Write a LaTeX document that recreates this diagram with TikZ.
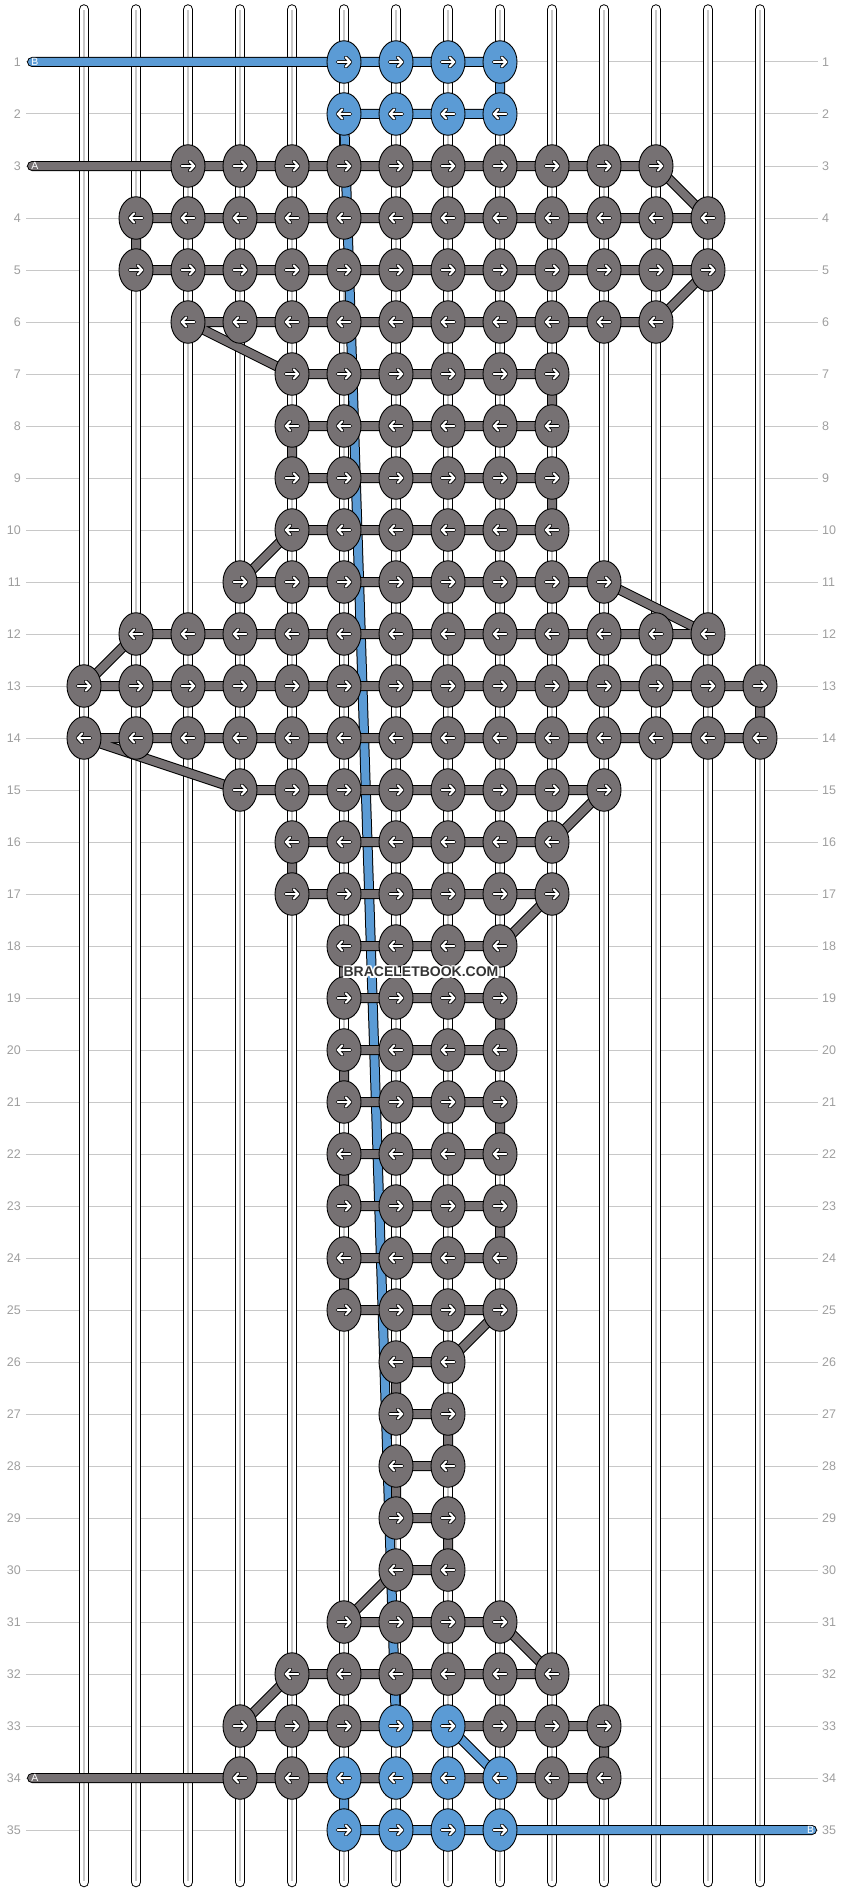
\documentclass[tikz,border=0pt]{standalone}
\usepackage{fontspec}
\setmainfont{Liberation Sans}
\usetikzlibrary{shapes.geometric}
\definecolor{gk}{HTML}{767173}
\definecolor{bk}{HTML}{5B9BD5}
\definecolor{gridc}{HTML}{C8C8C8}
\definecolor{lblc}{HTML}{9E9E9E}
\definecolor{wmc}{HTML}{333333}
\pgfdeclarelayer{bg}
\pgfdeclarelayer{thr}
\pgfsetlayers{bg,thr,main}
\begin{document}
\begin{tikzpicture}[x=1pt,y=-1pt,
  knot/.style={ellipse, draw=black, line width=0.9pt, minimum width=34pt, minimum height=42.5pt, inner sep=0pt},
  thread/.style={draw=black, line width=1pt, double=#1, double distance=8pt, line cap=round, line join=round},
  strout/.style={draw=black, line width=1pt, double=white, double distance=8.5pt, line cap=round},
  strin/.style={draw=gridc, line width=1.2pt},
  gridl/.style={draw=gridc, line width=1pt},
  rowlbl/.style={font=\fontsize{12.5}{14}\selectfont, text=lblc, inner sep=0pt},
  endlbl/.style={font=\fontsize{10.5}{12}\selectfont, text=white, inner sep=0pt},
  wm/.style={font=\bfseries\fontsize{14}{16}\selectfont, inner sep=0pt},
  arr/.pic={
    \draw[black, line width=3.8pt, line cap=round, line join=round] (-6.3,0) -- (6.3,0) (1.8,-4.6) -- (6.3,0) -- (1.8,4.6);
    \draw[white, line width=2pt, line cap=round, line join=round] (-6.3,0) -- (6.3,0) (1.8,-4.6) -- (6.3,0) -- (1.8,4.6);
  }]
\useasboundingbox (0,0) rectangle (844,1892);

% knots
\foreach \rw/\a/\b in {1/5/8,2/5/8,3/2/11,4/1/12,5/1/12,6/2/11,7/4/9,8/4/9,9/4/9,10/4/9,11/3/10,12/1/12,13/0/13,14/0/13,15/3/10,16/4/9,17/4/9,18/5/8,19/5/8,20/5/8,21/5/8,22/5/8,23/5/8,24/5/8,25/5/8,26/6/7,27/6/7,28/6/7,29/6/7,30/6/7,31/5/8,32/4/9,33/3/10,34/3/10,35/5/8}{
  \foreach \cl in {\a,...,\b}{
    \def\kc{gk}
    \ifnum\rw<3 \def\kc{bk}\fi
    \ifnum\rw=35 \def\kc{bk}\fi
    \ifnum\rw=33 \ifnum\cl>5 \ifnum\cl<8 \def\kc{bk}\fi\fi\fi
    \ifnum\rw=34 \ifnum\cl>4 \ifnum\cl<9 \def\kc{bk}\fi\fi\fi
    \ifodd\rw \def\sx{1}\else \def\sx{-1}\fi
    \node[knot, fill=\kc] (k-\rw-\cl) at ({84+52*\cl},{62+52*(\rw-1)}) {};
    \pic[xscale=\sx] at (k-\rw-\cl) {arr};
  }
}

% background: grid lines, labels, strings
\begin{pgfonlayer}{bg}
\foreach \rw in {1,...,35}{
  \draw[gridl] (26,{62+52*(\rw-1)}) -- (818,{62+52*(\rw-1)});
  \node[rowlbl, anchor=east] (ll\rw) at (21,{62+52*(\rw-1)}) {\rw};
  \node[rowlbl, anchor=west] (rl\rw) at (822,{62+52*(\rw-1)}) {\rw};
}
\foreach \cl in {0,...,13}{
  \coordinate (st\cl) at ({84+52*\cl},9.5);
  \coordinate (sb\cl) at ({84+52*\cl},1882);
  \draw[strout] (st\cl) -- (sb\cl);
  \draw[strin] ([yshift=-1pt]st\cl) -- ([yshift=1pt]sb\cl);
}
\end{pgfonlayer}

% threads
\coordinate (Bst) at (32,62);
\coordinate (Bend) at (812,1830);
\coordinate (Ast) at (32,166);
\coordinate (Aend) at (32,1778);
\begin{pgfonlayer}{thr}
\draw[thread=bk] (Bst) -- (k-1-5.center) -- (k-1-8.center) -- (k-2-8.center) -- (k-2-5.center)
  -- (k-33-6.center) -- (k-33-7.center) -- (k-34-8.center) -- (k-34-5.center)
  -- (k-35-5.center) -- (k-35-8.center) -- (Bend);
\draw[thread=gk] (Ast) \foreach \rw/\p/\q in {3/2/11,4/12/1,5/1/12,6/11/2,7/4/9,8/9/4,9/4/9,10/9/4,11/3/10,12/12/1,13/0/13,14/13/0,15/3/10,16/9/4,17/4/9,18/8/5,19/5/8,20/8/5,21/5/8,22/8/5,23/5/8,24/8/5,25/5/8,26/7/6,27/6/7,28/7/6,29/6/7,30/7/6,31/5/8,32/9/4,33/3/10,34/10/3} { -- (k-\rw-\p.center) -- (k-\rw-\q.center) } -- (Aend);
\end{pgfonlayer}

% thread end labels
\node[endlbl] (lB1) at (35,62) {B};
\node[endlbl] (lA1) at (35,166) {A};
\node[endlbl] (lA2) at (35,1778) {A};
\node[endlbl] (lB2) at (810.5,1830) {B};

% watermark
\foreach \dx/\dy [count=\i] in {-1.2/-1.2,0/-1.3,1.2/-1.2,-1.3/0,1.3/0,-1.2/1.2,0/1.3,1.2/1.2}
  \node[wm, text=white] (wmh\i) at (421+\dx,972+\dy) {BRACELETBOOK.COM};
\node[wm, text=wmc] (wm) at (421,972) {BRACELETBOOK.COM};
\end{tikzpicture}
\end{document}
